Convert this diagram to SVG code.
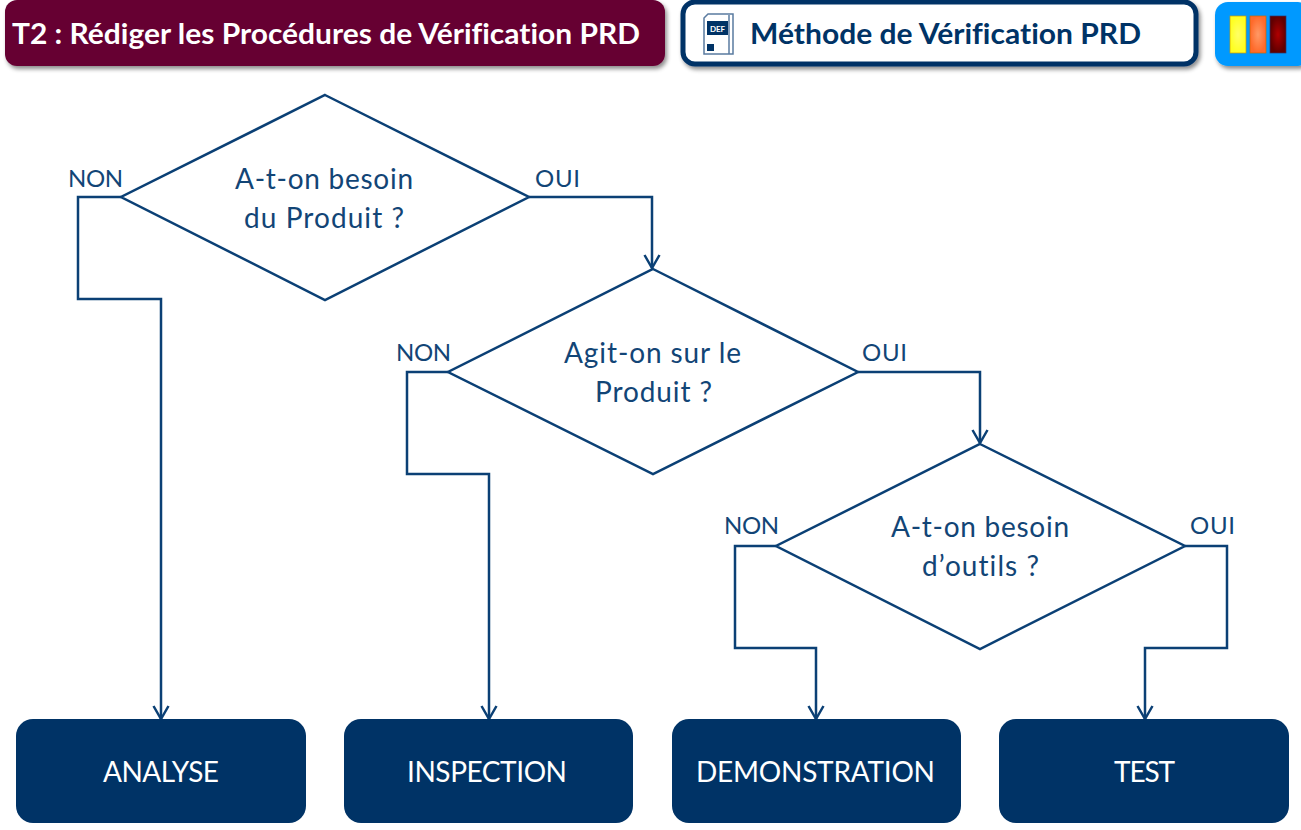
<svg xmlns="http://www.w3.org/2000/svg" width="1301" height="830" viewBox="0 0 1301 830">
<style>
text{font-family:Lato,"Open Sans","Liberation Sans",sans-serif;font-variant-ligatures:none}
.c{fill:none;stroke:#0b4075;stroke-width:2.5}
.d{fill:#fff;stroke:#0b4075;stroke-width:2.5}
.b{fill:#003366}
.t{fill:#124576;font-size:28px;text-anchor:middle}
.l{fill:#124576;font-size:24px}
.w{fill:#fff;font-size:28px;text-anchor:middle}
</style>
<defs>
<marker id="a" markerUnits="userSpaceOnUse" markerWidth="18" markerHeight="18" refX="15" refY="9" orient="auto"><path d="M2 1.500L15 9L2 16.500" fill="none" stroke="#0b4075" stroke-width="2.5"/></marker>
<filter id="s" x="-5%" y="-15%" width="110%" height="135%"><feDropShadow dx="2" dy="3" stdDeviation="2" flood-color="#000" flood-opacity=".45"/></filter>
<radialGradient id="g1"><stop offset="0" stop-color="#ffff66"/><stop offset="1" stop-color="#ffff22"/></radialGradient>
<radialGradient id="g2"><stop offset="0" stop-color="#ff9966"/><stop offset="1" stop-color="#ff6a2a"/></radialGradient>
<radialGradient id="g3"><stop offset="0" stop-color="#b00000"/><stop offset="1" stop-color="#600000"/></radialGradient>
</defs>
<g id="title"><rect x="5" y="0" width="660" height="66" rx="12" fill="#660033" filter="url(#s)"/>
<text x="12" y="43.500" fill="#fff" font-size="28" font-weight="700" textLength="628" lengthAdjust="spacingAndGlyphs">T2 : Rédiger les Procédures de Vérification PRD</text></g>
<g id="method"><rect x="683" y="2" width="513" height="62" rx="12" fill="#fff" stroke="#003366" stroke-width="5" filter="url(#s)"/>
<path d="M704 18L708 14H733V54H704Z" fill="#fff" stroke="#5a7ba0" stroke-width="1.5"/>
<path d="M729 15V54" stroke="#5a7ba0" stroke-width="1.5"/>
<rect x="707" y="21" width="21" height="14" fill="#003366"/>
<text x="717.500" y="31.500" font-size="8" font-weight="700" fill="#fff" text-anchor="middle">DEF</text>
<rect x="707" y="44" width="7" height="7" fill="#003366"/>
<text x="750" y="43.500" fill="#003366" font-size="28" font-weight="700" textLength="391" lengthAdjust="spacingAndGlyphs">Méthode de Vérification PRD</text></g>
<g id="icon"><rect x="1215" y="2" width="96" height="64" rx="13" fill="#0099ff" filter="url(#s)"/>
<rect x="1230" y="16" width="16" height="37" fill="url(#g1)" stroke="#cc9900" stroke-width=".7"/>
<rect x="1250" y="16" width="16" height="37" fill="url(#g2)" stroke="#cc6600" stroke-width=".7"/>
<rect x="1270" y="16" width="16" height="37" fill="url(#g3)" stroke="#333366" stroke-width=".7"/></g>
<g id="connectors">
<path class="c" d="M121 197H78V299H161V719" marker-end="url(#a)"/>
<path class="c" d="M529 197H652V268" marker-end="url(#a)"/>
<path class="c" d="M448 372H407V474H489V719" marker-end="url(#a)"/>
<path class="c" d="M858 372H980V443" marker-end="url(#a)"/>
<path class="c" d="M776 546H735V648H816V719" marker-end="url(#a)"/>
<path class="c" d="M1185 546H1227V648H1145V719" marker-end="url(#a)"/>
</g>
<g id="d1"><path class="d" d="M325 95L529 197L325 300L121 197Z"/><text class="t" x="324" y="189" textLength="178">A-t-on besoin</text><text class="t" x="324" y="228" textLength="160">du Produit ?</text></g>
<g id="d2"><path class="d" d="M653 269L858 372L653 474L448 372Z"/><text class="t" x="652.500" y="363" textLength="177">Agit-on sur le</text><text class="t" x="653.500" y="402" textLength="117">Produit ?</text></g>
<g id="d3"><path class="d" d="M980 444L1185 546L980 649L776 546Z"/><text class="t" x="980" y="537" textLength="178">A-t-on besoin</text><text class="t" x="980.500" y="576" textLength="117">d’outils ?</text></g>
<g id="labels">
<text class="l" x="68" y="187" textLength="55">NON</text><text class="l" x="535" y="187" textLength="45">OUI</text>
<text class="l" x="396" y="361" textLength="55">NON</text><text class="l" x="862" y="361" textLength="45">OUI</text>
<text class="l" x="724" y="534" textLength="55">NON</text><text class="l" x="1190" y="534" textLength="45">OUI</text>
</g>
<g id="analyse"><rect class="b" x="16" y="719" width="290" height="104" rx="17"/><text class="w" x="161" y="782" textLength="116">ANALYSE</text></g>
<g id="inspection"><rect class="b" x="344" y="719" width="289" height="104" rx="17"/><text class="w" x="487" y="782" textLength="160">INSPECTION</text></g>
<g id="demonstration"><rect class="b" x="672" y="719" width="289" height="104" rx="17"/><text class="w" x="815.500" y="782" textLength="239">DEMONSTRATION</text></g>
<g id="test"><rect class="b" x="999" y="719" width="290" height="104" rx="17"/><text class="w" x="1144.500" y="782" textLength="61">TEST</text></g>
</svg>
